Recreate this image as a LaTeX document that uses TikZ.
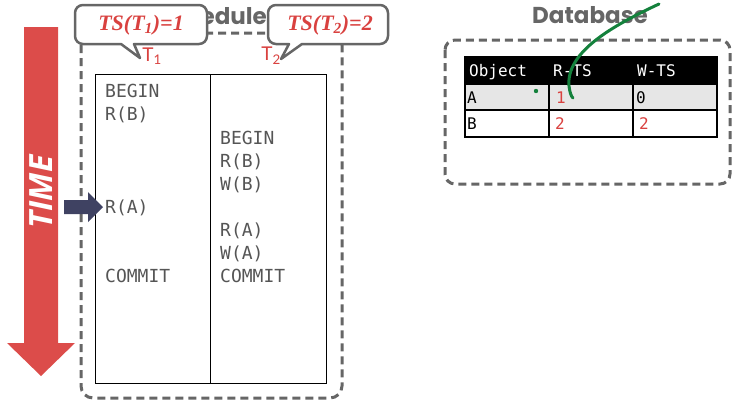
\documentclass[tikz,border=0pt]{standalone}
\usepackage{fontspec}
\setmainfont{Liberation Serif}
\setmonofont{DejaVu Sans Mono}
\newfontfamily\titlefont{Poppins}
\newfontfamily\labelfont{Lato}
\newfontfamily\timefont{Open Sans}
\definecolor{dashgray}{HTML}{666666}
\definecolor{txtgray}{HTML}{555555}
\definecolor{redA}{HTML}{DC4C4A}
\definecolor{redT}{HTML}{D9413F}
\definecolor{navy}{HTML}{3F4262}
\definecolor{ink}{HTML}{14813C}
\definecolor{rowgray}{HTML}{E6E6E6}
\tikzset{
  dashbox/.style={draw=dashgray, line width=3pt, dash pattern=on 8pt off 5pt, rounded corners=12pt},
  callout/.style={draw=dashgray, fill=white, line width=2.5pt, line join=round},
  calltext/.style={text=redT, font=\fontsize{22}{24}\selectfont\bfseries\itshape, inner sep=0pt},
  tlabel/.style={text=redT, font=\labelfont\fontsize{19}{20}\selectfont, inner sep=0pt},
  op/.style={anchor=west, text=txtgray, font=\ttfamily\fontsize{18}{18}\selectfont, inner sep=0pt, text height=13pt, text depth=0pt},
  cell/.style={anchor=west, font=\ttfamily\fontsize{16}{16}\selectfont, inner sep=0pt, text height=11.5pt, text depth=0pt},
  title/.style={text=dashgray, font=\titlefont\fontsize{23}{24}\selectfont\bfseries, inner sep=0pt}
}
\begin{document}
\begin{tikzpicture}[x=1pt,y=-1pt]
\useasboundingbox (0,0) rectangle (732,402);
% time arrow
\fill[redA] (24,27) -- (58,27) -- (58,343) -- (75,343) -- (41,376) -- (7,343) -- (24,343) -- cycle;
\node[text=white, rotate=90, font=\timefont\fontsize{32}{34}\selectfont\bfseries\itshape, inner sep=0pt] (time) at (41,192) {TIME};
% schedule box
\draw[dashbox] (81,33) rectangle (342,398);
\node[title] (sched) at (212,16) {Schedule};
% inner table
\draw[black, line width=0.9pt] (95,74) rectangle (326,383);
\coordinate (divtop) at (210,74);
\coordinate (divbot) at (210,383);
\draw[black, line width=0.9pt] (divtop) -- (divbot);
% T1 ops
\node[op] (a1) at (105,91) {BEGIN};
\node[op] (a2) at (105,114) {R(B)};
\node[op] (a3) at (105,207) {R(A)};
\node[op] (a4) at (105,276) {COMMIT};
% T2 ops
\node[op] (b1) at (220,138) {BEGIN};
\node[op] (b2) at (220,161) {R(B)};
\node[op] (b3) at (220,184) {W(B)};
\node[op] (b4) at (220,230) {R(A)};
\node[op] (b5) at (220,253) {W(A)};
\node[op] (b6) at (220,276) {COMMIT};
% navy pointer
\fill[navy] (64,200) -- (88,200) -- (88,192) -- (103,207) -- (88,222) -- (88,214) -- (64,214) -- cycle;
% callouts
\draw[callout] (75,25) [rounded corners=8pt] -- (75,5) -- (207,5) -- (207,44) [sharp corners] -- (134,44) -- (140,58) -- (121,44) [rounded corners=8pt] -- (75,44) -- cycle;
\node[calltext] (c1) at (141,25) {TS(T\textsubscript{1})=1};
\draw[callout] (268,25) [rounded corners=8pt] -- (268,5) -- (388,5) -- (388,44) [sharp corners] -- (302,44) -- (281,59) -- (289,44) [rounded corners=8pt] -- (268,44) -- cycle;
\node[calltext] (c2) at (330,25) {TS(T\textsubscript{2})=2};
\node[tlabel] (t1) at (152,56) {T\textsubscript{1}};
\node[tlabel] (t2) at (271,56) {T\textsubscript{2}};
% database
\node[title] (db) at (590,15) {Database};
\draw[dashbox, rounded corners=10pt] (445,40) rectangle (730,184);
\fill[black] (465,57) rectangle (717,84);
\fill[rowgray] (465,84) rectangle (717,110);
\draw[black, line width=1.2pt] (465,57) rectangle (717,137);
\draw[black, line width=1.2pt] (465,110) -- (717,110);
\draw[black, line width=1.2pt] (549,57) -- (549,137);
\draw[black, line width=1.2pt] (633,57) -- (633,137);
\draw[black, line width=1.2pt] (465,84) -- (717,84);
\node[cell, text=white] (h1) at (469,71) {Object};
\node[cell, text=white] (h2) at (553,71) {R-TS};
\node[cell, text=white] (h3) at (637,71) {W-TS};
\node[cell, text=black] (r1a) at (467,98) {A};
\node[cell, text=redT] (r1b) at (556,98) {1};
\node[cell, text=black] (r1c) at (636,98) {0};
\node[cell, text=black] (r2a) at (467,124) {B};
\node[cell, text=redT] (r2b) at (555,124) {2};
\node[cell, text=redT] (r2c) at (639,124) {2};
% green ink
\draw[ink, line width=3pt, line cap=round] (659,4) .. controls (612,26) and (566,52) .. (569,86) .. controls (570,93) and (571,96) .. (573,98);
\fill[ink] (536,91) circle (2.2pt);
\end{tikzpicture}
\end{document}
